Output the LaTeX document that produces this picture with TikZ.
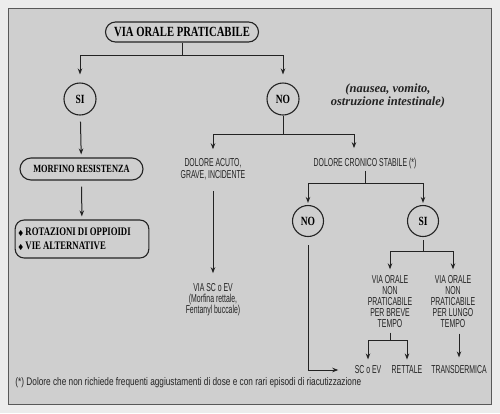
\documentclass[tikz,border=0pt]{standalone}
\usepackage{amsmath,amssymb}
\usepackage{fontspec}
\usepackage{xcolor}
\usepackage{tikz}
\usetikzlibrary{arrows.meta,shapes.misc}
\setmainfont{Liberation Serif}
\newfontfamily\labelfont[FakeStretch=0.76]{Liberation Serif}
\newfontfamily\lightfont[FakeStretch=0.6]{Liberation Sans}
\newfontfamily\notefont[FakeStretch=0.75]{Liberation Sans}
\definecolor{pagebg}{RGB}{236,236,236}
\definecolor{panelgray}{RGB}{207,207,207}
\definecolor{ink}{RGB}{35,35,35}

\begin{document}
\begin{tikzpicture}[x=1pt, y=-1pt, line width=1pt, draw=ink,
    box/.style = {draw, rounded rectangle, line width=1.1pt, inner sep=0pt, font=\labelfont\bfseries\fontsize{11}{12}\selectfont},
    yesno/.style = {draw, circle, line width=1.1pt, minimum size=32pt, inner sep=0pt, font=\labelfont\bfseries\fontsize{12.5}{12}\selectfont},
    txt/.style = {inner sep=1pt, align=center, text=ink, font=\lightfont\fontsize{11.5}{10.8}\selectfont},
    arr/.style = {-{Stealth[length=6pt,width=4.5pt]}, shorten >=#1},
    arr/.default = 5pt]
    \fill[pagebg] (0,0) rectangle (500,413);
    \draw[fill=panelgray, draw=black!65, line width=0.8pt] (8,8) rectangle (491,404);
    \useasboundingbox (0,0) rectangle (500,413);

    \node[box, minimum width=153pt, minimum height=20pt, font=\labelfont\bfseries\fontsize{14}{14}\selectfont] (title) at (182,32) {VIA ORALE PRATICABILE};
    \node[yesno] (si1) at (80,99) {SI};
    \node[yesno] (no1) at (283,99) {NO};
    \node[box, minimum width=123pt, minimum height=22pt] (morf) at (81.5,169) {MORFINO RESISTENZA};
    \node[draw, rounded corners=9pt, line width=1.1pt, minimum width=124pt, minimum height=38pt, align=left, inner sep=3pt, font=\labelfont\bfseries\fontsize{11.5}{13.5}\selectfont] (rot) at (82,239)
        {{\scriptsize$\blacklozenge$}\,ROTAZIONI DI OPPIOIDI\\{\scriptsize$\blacklozenge$}\,VIE ALTERNATIVE\hspace*{40pt}};
    \node[font=\bfseries\itshape\fontsize{12.5}{12.5}\selectfont, align=center, text=ink] (nausea) at (388,96) {(nausea, vomito,\\ostruzione intestinale)};

    \node[txt, font=\lightfont\fontsize{11.5}{12}\selectfont] (acuto) at (213,169.5) {DOLORE ACUTO,\\GRAVE, INCIDENTE};
    \node[txt, font=\lightfont\fontsize{11.5}{10.5}\selectfont] (viasc) at (213,300) {VIA SC o EV\\(Morfina rettale,\\Fentanyl buccale)};
    \node[txt] (cronico) at (365,164) {DOLORE CRONICO STABILE (*)};
    \node[yesno, minimum size=31pt] (no2) at (308,221) {NO};
    \node[yesno, minimum size=31pt] (si2) at (423,221) {SI};
    \node[txt] (breve) at (390,301.5) {VIA ORALE\\NON\\PRATICABILE\\PER BREVE\\TEMPO};
    \node[txt] (lungo) at (453,301.5) {VIA ORALE\\NON\\PRATICABILE\\PER LUNGO\\TEMPO};
    \node[txt] (scev) at (368,370) {SC o EV};
    \node[txt] (rettale) at (407,370) {RETTALE};
    \node[txt] (transd) at (459,370) {TRANSDERMICA};
    \node[txt, anchor=west, font=\notefont\fontsize{11}{12}\selectfont] (nota) at (14,383) {(*) Dolore che non richiede frequenti aggiustamenti di dose e con rari episodi di riacutizzazione};

    \coordinate (j1) at (182,55);
    \coordinate (j2) at (283,134);
    \coordinate (j3) at (365,183);
    \coordinate (j4) at (423,251);
    \coordinate (j5) at (390,340);

    \draw (title) -- (j1);
    \draw[arr=8pt] (j1) -| (si1);
    \draw[arr=8pt] (j1) -| (no1);
    \draw[arr=3pt, shorten <=6pt] (si1) -- (morf);
    \draw[arr=3pt, shorten <=6pt] (morf) -- (rot);
    \draw (no1) -- (j2);
    \draw[arr=8pt] (j2) -| (acuto);
    \draw[arr=9pt] (j2) -| ([xshift=-11pt]cronico.north);
    \draw[arr=9pt, shorten <=9pt] (acuto) -- (viasc);
    \draw (cronico) -- (j3);
    \draw[arr=2pt] (j3) -| (no2);
    \draw[arr=2pt] (j3) -| (si2);
    \draw[arr=15pt, shorten <=8pt] (no2) |- (scev);
    \draw[shorten <=3pt] (si2) -- (j4);
    \draw[arr=5pt] (j4) -| (breve);
    \draw[arr=5pt] (j4) -| (lungo);
    \draw[shorten <=4pt] (breve) -- (j5);
    \draw[arr=5pt] (j5) -| (scev);
    \draw[arr=5pt] (j5) -| (rettale);
    \draw[arr=7pt, shorten <=5pt] (lungo.south -| transd) -- (transd);
\end{tikzpicture}
\end{document}
